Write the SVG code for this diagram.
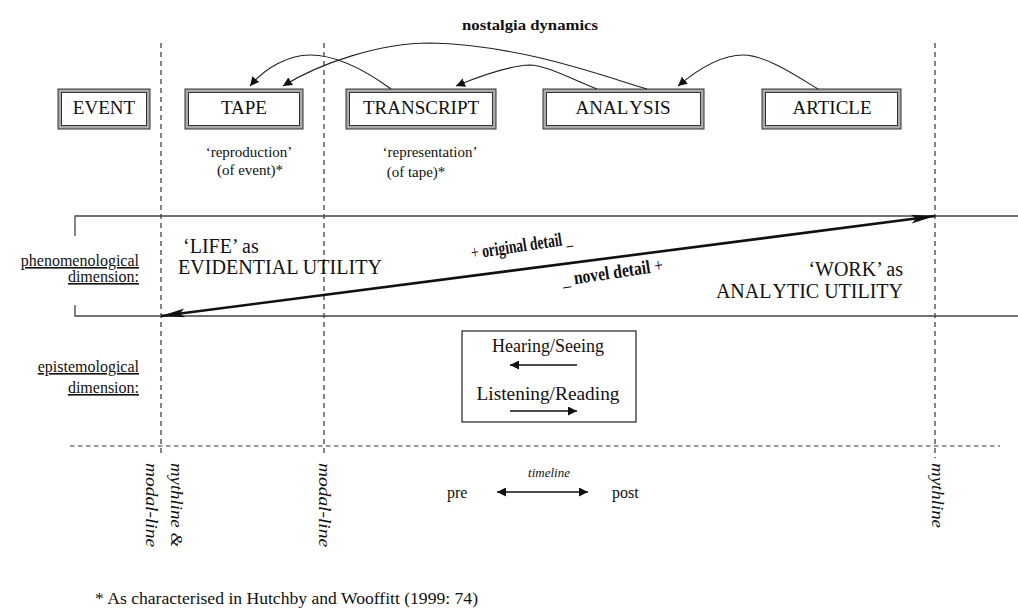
<svg xmlns="http://www.w3.org/2000/svg" width="1018" height="609" viewBox="0 0 1018 609" font-family="'Liberation Serif', 'Times New Roman', 'DejaVu Serif', serif">
<style>
text{font-family:'Liberation Serif','Times New Roman','DejaVu Serif',serif;fill:#111}
.box-o{fill:#aaa;stroke:#333;stroke-width:1}
.box-i{fill:#fff;stroke:#333;stroke-width:1}
.bt{font-size:19px;text-anchor:middle}
.sm{font-size:15px;text-anchor:middle}
.vd{stroke:#333;stroke-width:1.2;stroke-dasharray:5 4;fill:none}
.hd{stroke:#333;stroke-width:1.2;stroke-dasharray:4.5 3.5;fill:none}
.band{stroke:#444;stroke-width:1.3;fill:none}
.curve{stroke:#222;stroke-width:1.1;fill:none;marker-end:url(#ah)}
.ul{text-decoration:underline;font-size:16px;text-anchor:end}
.big{font-size:20px}
.rot{font-size:16px;font-style:italic}
.det{font-size:19px;font-weight:bold}
.thin{stroke:#111;stroke-width:1.3;fill:none}
</style>
<defs>
<marker id="ah" viewBox="0 0 10 10" refX="10" refY="5" markerWidth="9" markerHeight="9" markerUnits="userSpaceOnUse" orient="auto"><path d="M0,0 L10,5 L0,10 z" fill="#111"/></marker>
<marker id="bigh" viewBox="0 0 24 10" refX="24" refY="5" markerWidth="24" markerHeight="10" markerUnits="userSpaceOnUse" orient="auto-start-reverse"><path d="M0,0.5 L24,5 L0,9.5 L5,5 z" fill="#111"/></marker>
<marker id="mh" viewBox="0 0 10 10" refX="10" refY="5" markerWidth="11" markerHeight="9" markerUnits="userSpaceOnUse" orient="auto-start-reverse"><path d="M0,0 L10,5 L0,10 z" fill="#111"/></marker>
</defs>
<rect width="1018" height="609" fill="#fff"/>

<text x="530" y="30" font-family="Liberation Serif, serif" font-size="15" font-weight="bold" text-anchor="middle" textLength="136" lengthAdjust="spacingAndGlyphs">nostalgia dynamics</text>

<g id="guides">
<line class="vd" x1="161" y1="43" x2="161" y2="455"/>
<line class="vd" x1="324" y1="43" x2="324" y2="455"/>
<line class="vd" x1="935" y1="43" x2="935" y2="458"/>
<line class="hd" x1="70" y1="446" x2="1000" y2="446"/>
<path class="band" d="M75,236 V216 H1018"/>
<path class="band" d="M75,305 V316 H1018"/>
</g>

<g id="node-event">
<rect class="box-o" x="58" y="89" width="92" height="40"/>
<rect class="box-i" x="61.5" y="92.5" width="85" height="33"/>
<text class="bt" x="104" y="114">EVENT</text>
</g>
<g id="node-tape">
<rect class="box-o" x="185" y="89" width="118" height="40"/>
<rect class="box-i" x="188.5" y="92.5" width="111" height="33"/>
<text class="bt" x="244" y="114">TAPE</text>
<text class="sm" x="249" y="157" font-family="Liberation Serif, serif">‘reproduction’</text>
<text class="sm" x="250" y="175" font-family="Liberation Serif, serif">(of event)*</text>
</g>
<g id="node-transcript">
<rect class="box-o" x="346" y="89" width="150" height="40"/>
<rect class="box-i" x="349.5" y="92.5" width="143" height="33"/>
<text class="bt" x="421" y="114">TRANSCRIPT</text>
<text class="sm" x="430" y="157" font-family="Liberation Serif, serif">‘representation’</text>
<text class="sm" x="416" y="177" font-family="Liberation Serif, serif">(of tape)*</text>
</g>
<g id="node-analysis">
<rect class="box-o" x="543" y="89" width="161" height="40"/>
<rect class="box-i" x="546.5" y="92.5" width="154" height="33"/>
<text class="bt" x="623" y="114">ANAL<tspan dx="3">YSIS</tspan></text>
</g>
<g id="node-article">
<rect class="box-o" x="762" y="89" width="139" height="40"/>
<rect class="box-i" x="765.5" y="92.5" width="132" height="33"/>
<text class="bt" x="832" y="114">ARTICLE</text>
</g>

<g id="node-perception">
<rect x="462" y="331" width="174" height="91" fill="#fff" stroke="#333" stroke-width="1.3"/>
<text x="548" y="352" font-size="18" text-anchor="middle">Hearing/Seeing</text>
<text x="548" y="400" font-size="18" text-anchor="middle" textLength="143" lengthAdjust="spacingAndGlyphs">Listening/Reading</text>
</g>

<g id="connectors">
<path class="curve" d="M391,89 C365,70 335,55 310,55 C288,55 265,68 250,86"/>
<path class="curve" d="M647,89 C600,75 520,45 430,43 C380,43 320,63 283,86"/>
<path class="curve" d="M597,89 C570,78 545,65 530,65 C508,66 480,76 456,86"/>
<path class="curve" d="M818,89 C795,75 765,55 743,55 C720,55 697,70 678,86"/>
<line x1="161" y1="316" x2="935" y2="216" stroke="#111" stroke-width="2.6" marker-start="url(#bigh)" marker-end="url(#bigh)"/>
<line class="thin" x1="577" y1="365" x2="510" y2="365" marker-end="url(#mh)"/>
<line class="thin" x1="510" y1="411" x2="577" y2="411" marker-end="url(#mh)"/>
<line class="thin" x1="497" y1="492" x2="588" y2="492" marker-start="url(#mh)" marker-end="url(#mh)"/>
</g>

<g id="labels-phenomenological">
<text class="big" x="183" y="253" font-family="Liberation Serif, serif">‘LIFE’ as</text>
<text class="big" x="178" y="274" font-family="Liberation Serif, serif" textLength="204" lengthAdjust="spacingAndGlyphs">EVIDENTIAL UTILITY</text>
<text class="big" x="903" y="276" font-family="Liberation Serif, serif" text-anchor="end">‘WORK’ as</text>
<text class="big" x="903" y="298" font-family="Liberation Serif, serif" text-anchor="end">ANAL<tspan dx="3">YTIC UTILITY</tspan></text>
<text class="ul" x="139" y="266">phenomenological</text>
<text class="ul" x="139" y="282">dimension:</text>
<text class="det" transform="translate(472,259) rotate(-8.5)" textLength="102" lengthAdjust="spacingAndGlyphs"><tspan font-weight="normal">+</tspan> original detail <tspan font-weight="normal">_</tspan></text>
<text class="det" transform="translate(563,286) rotate(-8.5)" textLength="102" lengthAdjust="spacingAndGlyphs"><tspan font-weight="normal">_</tspan> novel detail <tspan font-weight="normal">+</tspan></text>
</g>

<g id="labels-epistemological">
<text class="ul" x="139" y="372">epistemological</text>
<text class="ul" x="139" y="393">dimension:</text>
</g>

<g id="timeline">
<text x="549" y="477" font-size="13" font-style="italic" text-anchor="middle">timeline</text>
<text x="447" y="498" font-size="16">pre</text>
<text x="612" y="498" font-size="16">post</text>
</g>

<g id="line-labels">
<text class="rot" transform="translate(171,463) rotate(90)" textLength="84" lengthAdjust="spacingAndGlyphs">mythline &amp;</text>
<text class="rot" transform="translate(146,463) rotate(90)" textLength="84" lengthAdjust="spacingAndGlyphs">modal-line</text>
<text class="rot" transform="translate(319,463) rotate(90)" textLength="84" lengthAdjust="spacingAndGlyphs">modal-line</text>
<text class="rot" transform="translate(932,463) rotate(90)" textLength="65" lengthAdjust="spacingAndGlyphs">mythline</text>
</g>

<text x="95" y="604" font-family="Liberation Serif, serif" font-size="16" textLength="383" lengthAdjust="spacingAndGlyphs">* As characterised in Hutchby and Wooffitt (1999: 74)</text>
</svg>
